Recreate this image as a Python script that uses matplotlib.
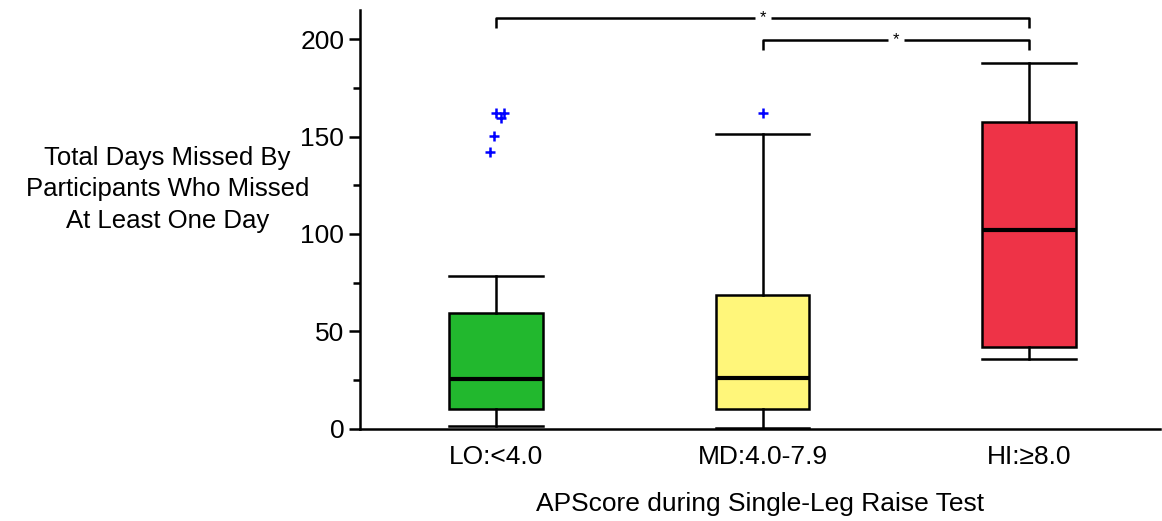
import matplotlib
matplotlib.use("Agg")
import matplotlib.pyplot as plt
from matplotlib.ticker import MultipleLocator

plt.rcParams["font.family"] = ["Liberation Sans", "DejaVu Sans"]

# data
groups = ["LO:<4.0", "MD:4.0-7.9", "HI:\u22658.0"]
whisker_low = [1.5, 0.5, 36]
q1 = [10.3, 10.3, 42]
median = [25.6, 26.2, 102]
q3 = [59.5, 68.7, 157.4]
whisker_high = [78.5, 151.5, 187.7]
outliers = [[162.1, 162.1, 159.5, 150.3, 142.1], [162.0], []]
outlier_jitter = [[0.0, 0.03, 0.019, -0.007, -0.022], [0.0], []]
box_colors = ["#22b82e", "#fff67a", "#ee3347"]

# significance brackets: (from group, to group, height)
brackets = [(0, 2, 210.8), (1, 2, 199.5)]

fig = plt.figure(figsize=(11.62, 5.21), dpi=100)
ax = fig.add_axes([0.31, 0.177, 0.688, 0.804])

positions = [1, 2, 3]
stats = []
for i in range(3):
    stats.append(dict(med=median[i], q1=q1[i], q3=q3[i],
                      whislo=whisker_low[i], whishi=whisker_high[i], fliers=[]))

bp = ax.bxp(stats, positions=positions, widths=0.35, patch_artist=True,
            showfliers=False,
            boxprops=dict(linewidth=1.8, edgecolor="black"),
            medianprops=dict(color="black", linewidth=3),
            whiskerprops=dict(color="black", linewidth=1.8),
            capprops=dict(color="black", linewidth=1.8),
            capwidths=0.35)
for patch, c in zip(bp["boxes"], box_colors):
    patch.set_facecolor(c)

for i, (vals, jit) in enumerate(zip(outliers, outlier_jitter)):
    xs = [positions[i] + j for j in jit]
    ax.plot(xs, vals, linestyle="none", marker="+", color="blue",
            markersize=7, markeredgewidth=1.8)

for a, b, h in brackets:
    x0, x1 = positions[a], positions[b]
    mid = (x0 + x1) / 2
    gap = 0.03
    ax.plot([x0, x0, mid - gap], [h - 5, h, h], color="black", lw=1.8,
            clip_on=False, solid_capstyle="butt")
    ax.plot([mid + gap, x1, x1], [h, h, h - 5], color="black", lw=1.8,
            clip_on=False, solid_capstyle="butt")
    ax.text(mid, h, "*", ha="center", va="center", fontsize=12)

ax.set_xlim(0.49, 3.49)
ax.set_ylim(0, 215)
ax.yaxis.set_major_locator(MultipleLocator(50))
ax.yaxis.set_minor_locator(MultipleLocator(25))
ax.set_xticks(positions)
ax.set_xticklabels(groups, fontsize=19)
ax.tick_params(axis="y", which="major", labelsize=19, length=8, width=1.8)
ax.tick_params(axis="y", which="minor", length=5, width=1.8)
ax.tick_params(axis="x", length=0, pad=12)

for s in ["top", "right"]:
    ax.spines[s].set_visible(False)
for s in ["left", "bottom"]:
    ax.spines[s].set_linewidth(1.8)

ax.set_xlabel("APScore during Single-Leg Raise Test", fontsize=19, labelpad=16)
fig.text(0.144, 0.637, "Total Days Missed By\nParticipants Who Missed\nAt Least One Day",
         ha="center", va="center", fontsize=18.5, linespacing=1.4)

fig.savefig("out.png", dpi=100)
